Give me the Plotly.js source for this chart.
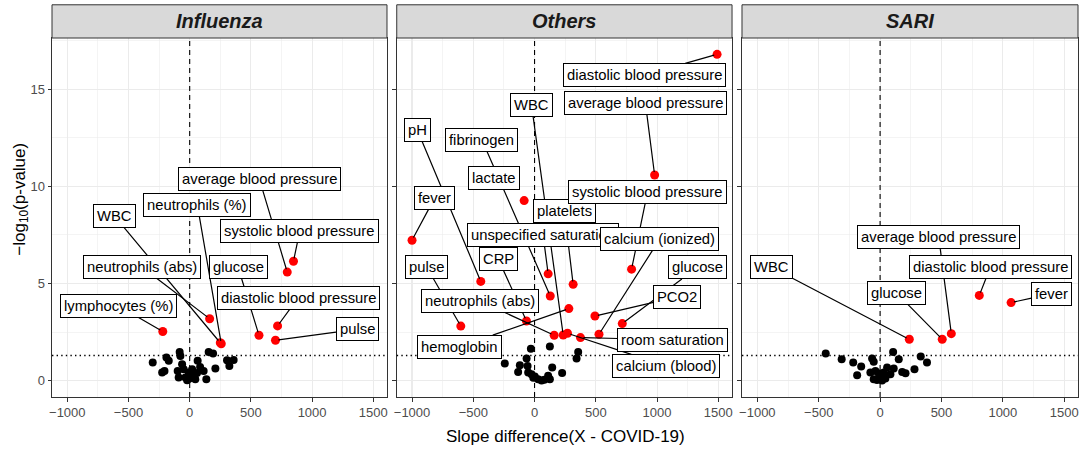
<!DOCTYPE html>
<html>
<head>
<meta charset="utf-8">
<script src="https://cdn.plot.ly/plotly-3.0.1.min.js"></script>
<style>html,body{margin:0;padding:0;background:#fff;}</style>
</head>
<body>
<div id="chart" style="width:1084px;height:450px;"></div>
<script>
// ---------------- DATA ----------------
const panelNames = ['Influenza', 'Others', 'SARI'];
const pThreshold = 0.05;

// Influenza – significant (red, labelled)
const fluRedLabels = ['lymphocytes (%)', 'WBC', 'neutrophils (abs)', 'neutrophils (%)', 'glucose',
  'diastolic blood pressure', 'pulse', 'average blood pressure', 'systolic blood pressure'];
const fluRedX = [-220, 250, 163, 258, 566, 718, 701, 797, 848];
const fluRedY = [2.53, 1.95, 3.19, 1.90, 2.34, 2.82, 2.08, 5.59, 6.15];
// Influenza – non significant (black)
const fluX = [-302, -225, -206, -190, -171, -82, -76, -98, -62, -90, -49, -35, -21, -8, 20, 28, 46, 60, 65, 114, 136, 155, 191, 210, 305, 324, 359, -5, 10, 85];
const fluY = [0.94, 0.42, 0.50, 1.19, 1.02, 1.48, 1.27, 0.50, 0.85, 0.16, 0.59, 0.16, 0.02, 0.42, 0.59, 0.25, 0.08, 0.39, 1.02, 0.50, 0.08, 1.48, 1.40, 0.63, 1.05, 0.76, 1.07, 0.10, 0.30, 0.70];

// Others – significant
const othRedLabels = ['fever', 'pH', 'pulse', 'CRP', 'neutrophils (abs)', 'hemoglobin', 'lactate', 'fibrinogen',
  'unspecified saturation', 'platelets', 'WBC', 'calcium (blood)', 'room saturation', 'calcium (ionized)',
  'PCO2', 'glucose', 'systolic blood pressure', 'average blood pressure', 'diastolic blood pressure'];
const othRedX = [-1000, -439, -602, -66, 160, 280, -85, 128, 111, 315, 234, 269, 375, 526, 493, 716, 792, 980, 1490];
const othRedY = [7.23, 5.11, 2.81, 3.07, 2.34, 3.71, 9.27, 4.36, 5.50, 4.96, 2.35, 2.44, 2.22, 2.39, 3.33, 2.94, 5.74, 10.59, 16.80];
// Others – non significant
const othX = [-30, 125, 356, 343, -65, -243, -120, -134, -57, -52, -25, 2, 29, 57, 111, 125, 144, 225, -10, 80];
const othY = [1.65, 1.76, 1.48, 1.14, 1.14, 0.88, 0.80, 0.45, 0.76, 0.42, 0.33, 0.22, 0.08, 0.01, 0.25, 0.08, 0.68, 0.39, 0.15, 0.05];

// SARI – significant
const sariRedLabels = ['WBC', 'glucose', 'average blood pressure', 'diastolic blood pressure', 'fever'];
const sariRedX = [238, 506, 580, 808, 1067];
const sariRedY = [2.13, 2.13, 2.42, 4.39, 4.02];
// SARI – non significant
const sariX = [-443, -313, -219, -154, -187, -65, -52, -79, -38, -52, -25, 16, 43, 57, 84, 111, 106, 152, 180, 207, 280, 331, 382, 3, 30, -11];
const sariY = [1.40, 1.10, 0.93, 0.73, 0.28, 1.14, 0.97, 0.42, 0.50, 0.08, 0.04, 0.01, 0.11, 0.68, 0.33, 0.63, 1.48, 1.10, 0.45, 0.38, 0.59, 1.24, 0.93, 0.25, 0.42, 0.37];

// ---------------- LABEL PLACEMENT (layout, like ggrepel output) ----------------
const fluLabPos = {x: [-583, -614, -391, 63, 395, 886, 1367, 568, 900], y: [3.86, 8.47, 5.85, 9.04, 5.85, 4.26, 2.64, 10.4, 7.73]};
const othLabPos = {x: [-815, -957, -881, -297, -447, -610, -333, -430, 70, 243, -25, 1073, 1128, 1024, 1163, 1328, 922, 905, 901],
                   y: [9.41, 12.9, 5.85, 6.28, 4.1, 1.75, 10.43, 12.4, 7.48, 8.76, 14.2, 0.76, 2.1, 7.31, 4.31, 5.83, 9.71, 14.29, 15.74]};
const sariLabPos = {x: [-885, 131, 477, 899, 1396], y: [5.84, 4.53, 7.41, 5.85, 4.48]};
const noSegment = {Others: ['lactate']};

// ---------------- BUILD ----------------
const FONT = 'Liberation Sans, Arial, Helvetica, sans-serif';
const xRange = [-1125, 1612];
const yRange = [-0.84, 17.64];
const domains = [[0, 0.3265], [0.3360, 0.6628], [0.6725, 1]];
const sfx = ['', '2', '3'];
const LABEL_SIZE = 14.8;

const panels = [
  {name: panelNames[0], bx: fluX, by: fluY, rx: fluRedX, ry: fluRedY, lab: fluRedLabels, pos: fluLabPos},
  {name: panelNames[1], bx: othX, by: othY, rx: othRedX, ry: othRedY, lab: othRedLabels, pos: othLabPos},
  {name: panelNames[2], bx: sariX, by: sariY, rx: sariRedX, ry: sariRedY, lab: sariRedLabels, pos: sariLabPos}
];

const yThr = -Math.log10(pThreshold);
const traces = [];
const shapes = [];
const arrowAnns = [];
const boxAnns = [];
const stripAnns = [];
const layout = {
  width: 1084, height: 450,
  margin: {l: 52, r: 6, t: 38, b: 53},
  paper_bgcolor: '#ffffff', plot_bgcolor: '#ffffff',
  showlegend: false,
  font: {family: FONT, color: '#000'}
};

function axisBase() {
  return {
    showgrid: true, gridcolor: '#EBEBEB', gridwidth: 1.1,
    zeroline: false,
    showline: true, linecolor: '#333333', linewidth: 1, mirror: true,
    ticks: 'outside', ticklen: 3.5, tickwidth: 1, tickcolor: '#333333',
    tickfont: {family: FONT, size: 13, color: '#4D4D4D'},
    fixedrange: true
  };
}

panels.forEach((p, i) => {
  const s = sfx[i];
  const xa = 'x' + s, ya = 'y' + s;
  layout['xaxis' + s] = Object.assign(axisBase(), {
    domain: domains[i], anchor: ya, range: xRange,
    tick0: 0, dtick: 500,
    minor: {dtick: 250, tick0: 0, showgrid: true, gridcolor: '#EBEBEB', gridwidth: 0.55, ticks: ''}
  });
  layout['yaxis' + s] = Object.assign(axisBase(), {
    domain: [0, 1], anchor: xa, range: yRange,
    tick0: 0, dtick: 5,
    showticklabels: i === 0,
    minor: {dtick: 2.5, tick0: 0, showgrid: true, gridcolor: '#EBEBEB', gridwidth: 0.55, ticks: ''}
  });
  if (i > 0) layout['yaxis' + s].matches = 'y';

  traces.push({type: 'scatter', mode: 'markers', x: p.bx, y: p.by, xaxis: xa, yaxis: ya,
    marker: {color: '#000000', size: 8}, hoverinfo: 'skip'});
  traces.push({type: 'scatter', mode: 'markers', x: p.rx, y: p.ry, xaxis: xa, yaxis: ya,
    marker: {color: '#FF0000', size: 9}, text: p.lab, hoverinfo: 'text'});

  shapes.push({type: 'line', xref: xa, yref: ya + ' domain', x0: 0, x1: 0, y0: 0, y1: 1,
    layer: 'above', line: {color: '#000', width: 1.1, dash: '5px,4px'}});
  shapes.push({type: 'line', xref: xa + ' domain', yref: ya, x0: 0, x1: 1, y0: yThr, y1: yThr,
    layer: 'above', line: {color: '#000', width: 1.5, dash: '1.4px,3.2px'}});

  // strip
  shapes.push({type: 'rect', xref: 'paper', yref: 'paper', x0: domains[i][0], x1: domains[i][1], y0: 1, y1: 1.0925,
    fillcolor: '#D9D9D9', line: {color: '#333333', width: 1}});
  stripAnns.push({xref: 'paper', yref: 'paper', x: (domains[i][0] + domains[i][1]) / 2, y: 1.046,
    xanchor: 'center', yanchor: 'middle', showarrow: false,
    text: '<b><i>' + p.name + '</i></b>', font: {family: FONT, size: 20, color: '#1A1A1A'}});

  const skip = noSegment[p.name] || [];
  p.lab.forEach((lab, k) => {
    const common = {xref: xa, yref: ya, text: lab, borderpad: 3, borderwidth: 1};
    if (skip.indexOf(lab) < 0) {
      arrowAnns.push(Object.assign({}, common, {
        x: p.rx[k], y: p.ry[k], axref: xa, ayref: ya, ax: p.pos.x[k], ay: p.pos.y[k],
        showarrow: true, arrowhead: 0, arrowwidth: 1.2, arrowcolor: '#000', standoff: 3,
        bgcolor: 'rgba(0,0,0,0)', bordercolor: 'rgba(0,0,0,0)',
        font: {family: FONT, size: LABEL_SIZE, color: 'rgba(0,0,0,0)'}
      }));
    }
    boxAnns.push(Object.assign({}, common, {
      x: p.pos.x[k], y: p.pos.y[k], showarrow: false, xanchor: 'center', yanchor: 'middle',
      bgcolor: '#ffffff', bordercolor: '#000000', font: {family: FONT, size: LABEL_SIZE, color: '#000'}
    }));
  });
});

const titleAnns = [
  {xref: 'paper', yref: 'paper', x: 0.5, y: -0.111, xanchor: 'center', yanchor: 'middle', showarrow: false,
    text: 'Slope difference(X - COVID-19)', font: {family: FONT, size: 17, color: '#000'}},
  {xref: 'paper', yref: 'paper', x: -0.031, y: 0.55, xanchor: 'center', yanchor: 'middle', showarrow: false,
    textangle: -90, text: '\u2212log<sub>10</sub>(p-value)', font: {family: FONT, size: 17, color: '#000'}}
];

layout.shapes = shapes;
layout.annotations = arrowAnns.concat(boxAnns, stripAnns, titleAnns);

Plotly.newPlot('chart', traces, layout, {displayModeBar: false, staticPlot: true});
</script>
</body>
</html>
